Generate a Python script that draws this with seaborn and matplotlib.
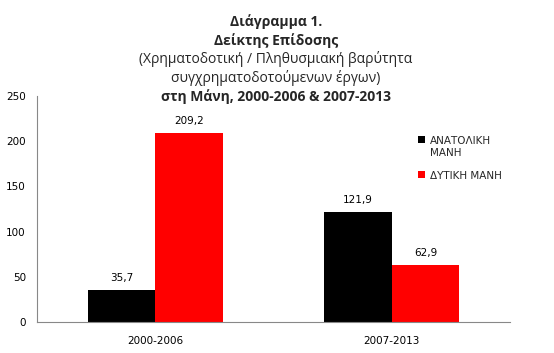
import pandas as pd
import matplotlib.pyplot as plt
import seaborn as sns

# Data
periods = ['2000-2006', '2007-2013']
regions = ['ΑΝΑΤΟΛΙΚΗ\nΜΑΝΗ', 'ΔΥΤΙΚΗ ΜΑΝΗ']
east_values = [35.7, 121.9]
west_values = [209.2, 62.9]
colors = ['#000000', '#ff0000']
y_ticks = [0, 50, 100, 150, 200, 250]

df = pd.DataFrame({
    'period': periods * 2,
    'region': [regions[0]] * 2 + [regions[1]] * 2,
    'value': east_values + west_values,
})

sns.set_style('white')
plt.rcParams['font.family'] = ['DejaVu Sans']

fig = plt.figure(figsize=(5.54, 3.53), dpi=100)
ax = fig.add_axes([0.0668, 0.0878, 0.854, 0.640])

sns.barplot(data=df, x='period', y='value', hue='region', palette=colors,
            width=0.57, saturation=1, linewidth=0, ax=ax, legend=True)

for container in ax.containers:
    ax.bar_label(container, labels=[f'{v:.1f}'.replace('.', ',') for v in container.datavalues],
                 padding=5, fontsize=7.5, color='#000000')

ax.set_ylim(0, 250)
ax.set_yticks(y_ticks)
ax.set_xlim(-0.5, 1.5)
ax.set_xlabel('')
ax.set_ylabel('')
ax.tick_params(axis='both', length=0, labelsize=7.5, colors='#000000')
ax.tick_params(axis='y', pad=8)
ax.tick_params(axis='x', pad=10)
for s in ['top', 'right']:
    ax.spines[s].set_visible(False)
for s in ['left', 'bottom']:
    ax.spines[s].set_color('#888888')
    ax.spines[s].set_linewidth(0.8)

leg = ax.legend(loc='upper left', bbox_to_anchor=(0.7545, 0.6147), bbox_transform=fig.transFigure,
                frameon=False, fontsize=7.5, handlelength=0.7, handleheight=0.7,
                handletextpad=0.45, labelspacing=1.3, borderpad=0, borderaxespad=0)
# square next to the first line of a two-line label
for row in leg._legend_handle_box.get_children()[0].get_children():
    row.align = 'top'

# Title
title_lines = [
    ('Διάγραμμα 1.', 'bold', 22),
    ('Δείκτης Επίδοσης', 'bold', 41),
    ('(Χρηματοδοτική / Πληθυσμιακή βαρύτητα', 'normal', 59),
    ('συγχρηματοδοτούμενων έργων)', 'normal', 78),
    ('στη Μάνη, 2000-2006 & 2007-2013', 'bold', 97),
]
for text, weight, y in title_lines:
    fig.text(0.498, 1 - y / 353, text, ha='center', va='center', fontsize=10,
             fontweight=weight, family='Open Sans')

plt.savefig('out.png', dpi=100)
plt.close()
